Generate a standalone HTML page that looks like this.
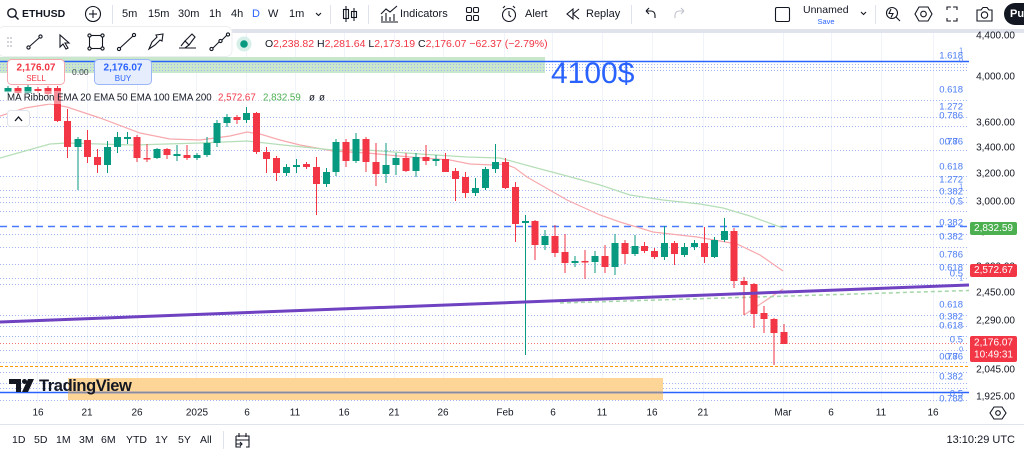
<!DOCTYPE html>
<html><head><meta charset="utf-8">
<style>
html,body{margin:0;padding:0;background:#fff;}
body{width:1024px;height:451px;overflow:hidden;}
svg{display:block;font-family:"Liberation Sans",sans-serif;}
</style></head>
<body>
<svg width="1024" height="451" viewBox="0 0 1024 451" xmlns="http://www.w3.org/2000/svg">
<rect x="0" y="0" width="1024" height="451" fill="#fff"/>
<!-- top toolbar separator -->
<rect x="0" y="29" width="1024" height="4" fill="#e0e3eb"/>

<!-- vertical grid -->
<g stroke="#f0f3fa" stroke-width="1">
<line x1="37.5" y1="33" x2="37.5" y2="403"/><line x1="87.5" y1="33" x2="87.5" y2="403"/><line x1="137.5" y1="33" x2="137.5" y2="403"/><line x1="196.5" y1="33" x2="196.5" y2="403"/><line x1="246.5" y1="33" x2="246.5" y2="403"/><line x1="295.5" y1="33" x2="295.5" y2="403"/><line x1="344.5" y1="33" x2="344.5" y2="403"/><line x1="394.5" y1="33" x2="394.5" y2="403"/><line x1="443.5" y1="33" x2="443.5" y2="403"/><line x1="504.5" y1="33" x2="504.5" y2="403"/><line x1="552.5" y1="33" x2="552.5" y2="403"/><line x1="602.5" y1="33" x2="602.5" y2="403"/><line x1="652.5" y1="33" x2="652.5" y2="403"/><line x1="703.5" y1="33" x2="703.5" y2="403"/><line x1="783.5" y1="33" x2="783.5" y2="403"/><line x1="831.5" y1="33" x2="831.5" y2="403"/><line x1="881.5" y1="33" x2="881.5" y2="403"/><line x1="933.5" y1="33" x2="933.5" y2="403"/>
</g>

<!-- green band -->
<rect x="0" y="57" width="545" height="16" fill="#c9e7cb"/>

<!-- dotted fib lines -->
<g stroke="#a3b6f4" stroke-width="1" stroke-dasharray="1 2">
<line x1="0" y1="64.5" x2="969" y2="64.5"/><line x1="0" y1="67.5" x2="969" y2="67.5"/><line x1="0" y1="70.5" x2="969" y2="70.5"/>
<line x1="0" y1="100.5" x2="969" y2="100.5"/><line x1="0" y1="117.5" x2="969" y2="117.5"/><line x1="0" y1="126.5" x2="969" y2="126.5"/>
<line x1="0" y1="150.5" x2="969" y2="150.5"/><line x1="0" y1="176.5" x2="969" y2="176.5"/><line x1="0" y1="190.5" x2="969" y2="190.5"/>
<line x1="0" y1="197.5" x2="969" y2="197.5"/><line x1="0" y1="202.5" x2="969" y2="202.5"/><line x1="0" y1="211.5" x2="969" y2="211.5"/>
<line x1="0" y1="234.5" x2="969" y2="234.5"/><line x1="0" y1="247.5" x2="969" y2="247.5"/><line x1="0" y1="264.5" x2="969" y2="264.5"/>
<line x1="0" y1="278.5" x2="969" y2="278.5"/><line x1="0" y1="284.5" x2="969" y2="284.5"/><line x1="0" y1="315.5" x2="969" y2="315.5"/>
<line x1="0" y1="326.5" x2="969" y2="326.5"/><line x1="0" y1="336.5" x2="969" y2="336.5"/><line x1="0" y1="350.5" x2="969" y2="350.5"/>
<line x1="0" y1="362.5" x2="969" y2="362.5"/><line x1="0" y1="372.5" x2="969" y2="372.5"/><line x1="0" y1="383.5" x2="969" y2="383.5"/>
<line x1="0" y1="388.5" x2="969" y2="388.5"/><line x1="0" y1="400.5" x2="969" y2="400.5"/>
</g>
<!-- special horizontal lines -->
<line x1="0" y1="61.5" x2="969" y2="61.5" stroke="#2962ff" stroke-width="1.5"/>
<line x1="0" y1="226.5" x2="969" y2="226.5" stroke="#2962ff" stroke-width="1.5" stroke-dasharray="7 5" opacity="0.85"/>
<line x1="0" y1="343.5" x2="969" y2="343.5" stroke="#f23645" stroke-width="1" stroke-dasharray="1 2" opacity="0.7"/>
<line x1="0" y1="366.5" x2="969" y2="366.5" stroke="#ff9800" stroke-width="1" stroke-dasharray="3 2"/>

<!-- orange band -->
<rect x="68" y="378" width="595" height="22" fill="#fdd597"/>
<line x1="0" y1="392.5" x2="969" y2="392.5" stroke="#2962ff" stroke-width="1.5"/>
<line x1="68" y1="392.5" x2="663" y2="392.5" stroke="#8a8aa0" stroke-width="1.5"/>

<!-- EMA lines -->
<polyline fill="none" stroke="#f7a9ad" stroke-width="1.2" points="0,116 25,108 50,104 67,107 100,118 140,133 170,139 200,140 230,136 247,132 260,134 280,140 300,145 333,151 367,153 410,157 450,160 470,164 493,165 505,164 515,168 527,177 567,200 600,215 620,222 653,232 697,237 737,244 760,255 783,271"/>
<polyline fill="none" stroke="#f7a9ad" stroke-width="1.2" points="744,315 783,289"/>
<polyline fill="none" stroke="#b5deb7" stroke-width="1.2" points="0,158 25,151 50,144 67,143 133,145 200,143 247,141 283,145 333,150 367,150 420,154 467,157 500,158 533,167 567,176 600,185 630,195 663,200 700,204 723,208 750,216 783,228"/>
<line x1="560" y1="303" x2="969" y2="290.5" stroke="#a5d6a7" stroke-width="1.5" stroke-dasharray="4 3"/>

<!-- candles green -->
<g fill="#089981">
<rect x="7.5" y="86" width="1" height="8"/><rect x="4.5" y="88" width="7" height="4"/>
<rect x="27.5" y="85" width="1" height="9"/><rect x="24.5" y="87" width="7" height="6"/>
<rect x="77.5" y="137" width="1" height="53"/><rect x="74.5" y="139" width="7" height="8"/>
<rect x="107" y="141" width="1" height="32"/><rect x="104" y="147" width="7" height="18"/>
<rect x="117" y="132" width="1" height="21"/><rect x="114" y="137" width="7" height="10"/>
<rect x="127" y="132" width="1" height="12"/><rect x="124" y="137" width="7" height="2"/>
<rect x="156.5" y="148" width="1" height="11"/><rect x="153.5" y="149" width="7" height="9"/>
<rect x="176.5" y="145" width="1" height="16"/><rect x="173.5" y="154" width="7" height="2"/>
<rect x="196.5" y="153" width="1" height="7"/><rect x="193.5" y="155" width="7" height="3"/>
<rect x="206.5" y="137" width="1" height="20"/><rect x="203.5" y="143" width="7" height="12"/>
<rect x="216.5" y="120" width="1" height="27"/><rect x="213.5" y="123" width="7" height="20"/>
<rect x="226.5" y="114" width="1" height="13"/><rect x="223.5" y="117" width="7" height="6"/>
<rect x="246" y="107" width="1" height="16"/><rect x="243" y="113" width="7" height="7"/>
<rect x="286" y="164" width="1" height="12"/><rect x="283" y="167" width="7" height="6"/>
<rect x="296" y="159" width="1" height="14"/><rect x="293" y="165" width="7" height="2"/>
<rect x="326" y="168" width="1" height="19"/><rect x="323" y="172" width="7" height="12"/>
<rect x="335.5" y="139" width="1" height="37"/><rect x="332.5" y="142" width="7" height="30"/>
<rect x="355.5" y="133" width="1" height="30"/><rect x="352.5" y="139" width="7" height="22"/>
<rect x="385.5" y="143" width="1" height="40"/><rect x="382.5" y="165" width="7" height="9"/>
<rect x="395.5" y="153" width="1" height="22"/><rect x="392.5" y="158" width="7" height="7"/>
<rect x="415.5" y="153" width="1" height="24"/><rect x="412.5" y="157" width="7" height="14"/>
<rect x="435.5" y="155" width="1" height="11"/><rect x="432.5" y="159" width="7" height="2"/>
<rect x="475" y="178" width="1" height="18"/><rect x="472" y="188" width="7" height="5"/>
<rect x="485" y="167" width="1" height="23"/><rect x="482" y="169" width="7" height="19"/>
<rect x="495" y="144" width="1" height="29"/><rect x="492" y="162" width="7" height="7"/>
<rect x="525" y="215" width="1" height="140"/><rect x="522" y="221" width="7" height="2"/>
<rect x="544.5" y="230" width="1" height="20"/><rect x="541.5" y="236" width="7" height="9"/>
<rect x="574.5" y="256" width="1" height="11"/><rect x="571.5" y="261" width="7" height="2"/>
<rect x="594.5" y="251" width="1" height="22"/><rect x="591.5" y="256" width="7" height="6"/>
<rect x="614.5" y="234" width="1" height="41"/><rect x="611.5" y="243" width="7" height="24"/>
<rect x="634.5" y="235" width="1" height="21"/><rect x="631.5" y="246" width="7" height="8"/>
<rect x="664" y="226" width="1" height="34"/><rect x="661" y="243" width="7" height="14"/>
<rect x="684" y="243" width="1" height="14"/><rect x="681" y="247" width="7" height="8"/>
<rect x="694" y="240" width="1" height="10"/><rect x="691" y="243" width="7" height="4"/>
<rect x="714" y="237" width="1" height="21"/><rect x="711" y="240" width="7" height="17"/>
<rect x="724" y="218" width="1" height="24"/><rect x="721" y="231" width="7" height="9"/>
</g>
<!-- candles red -->
<g fill="#f23645">
<rect x="17.5" y="86" width="1" height="9"/><rect x="14.5" y="88" width="7" height="5"/>
<rect x="37.5" y="87" width="1" height="6"/><rect x="34.5" y="89" width="7" height="2"/>
<rect x="47.5" y="86" width="1" height="12"/><rect x="44.5" y="88" width="7" height="6"/>
<rect x="57" y="86" width="1" height="36"/><rect x="54" y="88" width="7" height="33"/>
<rect x="67" y="109" width="1" height="49"/><rect x="64" y="121" width="7" height="26"/>
<rect x="87" y="130" width="1" height="33"/><rect x="84" y="140" width="7" height="17"/>
<rect x="97" y="149" width="1" height="24"/><rect x="94" y="157" width="7" height="8"/>
<rect x="136.5" y="135" width="1" height="27"/><rect x="133.5" y="137" width="7" height="21"/>
<rect x="146.5" y="144" width="1" height="18"/><rect x="143.5" y="158" width="7" height="1.5"/>
<rect x="166.5" y="148" width="1" height="11"/><rect x="163.5" y="149" width="7" height="6"/>
<rect x="186.5" y="145" width="1" height="15"/><rect x="183.5" y="155" width="7" height="3"/>
<rect x="236.5" y="115" width="1" height="9"/><rect x="233.5" y="117" width="7" height="3"/>
<rect x="256" y="112" width="1" height="42"/><rect x="253" y="113" width="7" height="39"/>
<rect x="266" y="147" width="1" height="26"/><rect x="263" y="152" width="7" height="7"/>
<rect x="276" y="156" width="1" height="25"/><rect x="273" y="158" width="7" height="15"/>
<rect x="306" y="162" width="1" height="7"/><rect x="303" y="164" width="7" height="3"/>
<rect x="316" y="157" width="1" height="58"/><rect x="313" y="167" width="7" height="17"/>
<rect x="345.5" y="139" width="1" height="28"/><rect x="342.5" y="142" width="7" height="19"/>
<rect x="365.5" y="137" width="1" height="35"/><rect x="362.5" y="139" width="7" height="23"/>
<rect x="375.5" y="143" width="1" height="43"/><rect x="372.5" y="162" width="7" height="12"/>
<rect x="405.5" y="153" width="1" height="19"/><rect x="402.5" y="158" width="7" height="13"/>
<rect x="425.5" y="145" width="1" height="20"/><rect x="422.5" y="157" width="7" height="4"/>
<rect x="445" y="153" width="1" height="19"/><rect x="442" y="159" width="7" height="13"/>
<rect x="455" y="168" width="1" height="33"/><rect x="452" y="171" width="7" height="8"/>
<rect x="465" y="172" width="1" height="26"/><rect x="462" y="177" width="7" height="16"/>
<rect x="505" y="158" width="1" height="31"/><rect x="502" y="162" width="7" height="26"/>
<rect x="515" y="182" width="1" height="60"/><rect x="512" y="187" width="7" height="37"/>
<rect x="534.5" y="220" width="1" height="40"/><rect x="531.5" y="221" width="7" height="24"/>
<rect x="554.5" y="225" width="1" height="32"/><rect x="551.5" y="236" width="7" height="17"/>
<rect x="564.5" y="234" width="1" height="39"/><rect x="561.5" y="252" width="7" height="11"/>
<rect x="584.5" y="250" width="1" height="29"/><rect x="581.5" y="261" width="7" height="1.5"/>
<rect x="604.5" y="245" width="1" height="28"/><rect x="601.5" y="256" width="7" height="11"/>
<rect x="624.5" y="240" width="1" height="24"/><rect x="621.5" y="243" width="7" height="11"/>
<rect x="644" y="242" width="1" height="11"/><rect x="641" y="246" width="7" height="5"/>
<rect x="654" y="248" width="1" height="11"/><rect x="651" y="251" width="7" height="6"/>
<rect x="674" y="241" width="1" height="24"/><rect x="671" y="243" width="7" height="11"/>
<rect x="704" y="227" width="1" height="36"/><rect x="701" y="243" width="7" height="14"/>
<rect x="733.5" y="228" width="1" height="60"/><rect x="730.5" y="231" width="7" height="50"/>
<rect x="743.5" y="277" width="1" height="38"/><rect x="740.5" y="281" width="7" height="4"/>
<rect x="753.5" y="283" width="1" height="45"/><rect x="750.5" y="284" width="7" height="30"/>
<rect x="763.5" y="306" width="1" height="27"/><rect x="760.5" y="313" width="7" height="6"/>
<rect x="773.5" y="318" width="1" height="47"/><rect x="770.5" y="319" width="7" height="14"/>
<rect x="783.5" y="324" width="1" height="20"/><rect x="780.5" y="332" width="7" height="12"/>
</g>

<!-- purple trend line -->
<line x1="0" y1="322" x2="969" y2="285" stroke="#6f42c1" stroke-width="3"/>

<!-- fib labels -->
<g fill="#4a7cf3" font-size="9.5" text-anchor="end" dominant-baseline="central">
<text x="963" y="56">1.618</text>
<text x="963" y="90">0.618</text>
<text x="963" y="107">1.272</text>
<text x="963" y="116">0.786</text>
<text x="963" y="142">0.786</text><text x="958" y="142">0.7</text>
<text x="963" y="167">0.618</text>
<text x="963" y="180">1.272</text>
<text x="963" y="192">0.382</text>
<text x="963" y="202">0.5</text>
<text x="963" y="223">0.382</text>
<text x="963" y="237">0.382</text>
<text x="963" y="255">0.786</text>
<text x="963" y="268">0.618</text>
<text x="963" y="274">0.5</text>
<text x="963" y="305">0.618</text>
<text x="963" y="317">0.382</text>
<text x="963" y="326">0.618</text>
<text x="963" y="340">0.5</text>
<text x="963" y="357">0.786</text><text x="958" y="357">0.7</text>
<text x="963" y="377">0.382</text>
<text x="963" y="394">0.5</text>
<text x="963" y="399">0.788</text>
</g>
<g fill="#4a7cf3" font-size="7" text-anchor="end" dominant-baseline="central">
<text x="963" y="51">1</text><text x="963" y="61">0</text><text x="963" y="187">1</text><text x="963" y="279">1</text><text x="963" y="350">0</text>
</g>

<!-- 4100$ -->
<text x="551" y="83" font-size="30" fill="#2962ff">4100$</text>

<!-- TradingView logo -->
<g fill="#131722">
<path d="M9 379 H21 V392 H16 V384 H9 Z"/>
<circle cx="24.5" cy="381.5" r="2.5"/>
<path d="M28 379 H34 L28 392 H22 Z"/>
</g>
<text x="39" y="391" font-size="16.5" font-weight="bold" fill="#131722" letter-spacing="-0.4">TradingView</text>

<!-- price axis -->
<rect x="969" y="33" width="55" height="370" fill="#fff"/>
<g fill="#131722" font-size="10" text-anchor="end" dominant-baseline="central">
<text x="1015" y="36">4,400.00</text>
<text x="1015" y="77">4,000.00</text>
<text x="1015" y="123">3,600.00</text>
<text x="1015" y="148">3,400.00</text>
<text x="1015" y="174">3,200.00</text>
<text x="1015" y="202">3,000.00</text>
<text x="1015" y="232">2,800.00</text>
<text x="1015" y="267">2,600.00</text>
<text x="1015" y="293">2,450.00</text>
<text x="1015" y="321">2,290.00</text>
<text x="1015" y="370">2,045.00</text>
<text x="1015" y="397">1,925.00</text>
</g>
<rect x="970" y="222" width="47" height="13" rx="2" fill="#4caf50"/>
<text x="993.5" y="228.5" font-size="10" fill="#fff" text-anchor="middle" dominant-baseline="central">2,832.59</text>
<rect x="970" y="264" width="47" height="13" rx="2" fill="#f23645"/>
<text x="993.5" y="270.5" font-size="10" fill="#fff" text-anchor="middle" dominant-baseline="central">2,572.67</text>
<rect x="970" y="336" width="47" height="26" rx="2" fill="#f23645"/>
<text x="993.5" y="343" font-size="10" fill="#fff" text-anchor="middle" dominant-baseline="central">2,176.07</text>
<text x="993.5" y="355" font-size="10" fill="#fff" text-anchor="middle" dominant-baseline="central">10:49:31</text>

<!-- time axis -->
<g fill="#131722" font-size="10" text-anchor="middle" dominant-baseline="central">
<text x="38" y="413">16</text><text x="87" y="413">21</text><text x="137" y="413">26</text><text x="197" y="413">2025</text>
<text x="247" y="413">6</text><text x="295" y="413">11</text><text x="344" y="413">16</text><text x="394" y="413">21</text>
<text x="443" y="413">26</text><text x="505" y="413">Feb</text><text x="553" y="413">6</text><text x="602" y="413">11</text>
<text x="652" y="413">16</text><text x="703" y="413">21</text><text x="783" y="413">Mar</text><text x="831" y="413">6</text>
<text x="881" y="413">11</text><text x="933" y="413">16</text>
</g>
<g fill="none" stroke="#131722" stroke-width="1.1">
<path d="M994 407 L1002 407 L1006 413 L1002 419 L994 419 L990 413 Z"/>
<circle cx="998" cy="413" r="2.3"/>
</g>

<!-- bottom bar -->
<line x1="0" y1="424.5" x2="1024" y2="424.5" stroke="#e0e3eb"/>
<g fill="#131722" font-size="10.5" dominant-baseline="central">
<text x="12" y="440">1D</text><text x="34" y="440">5D</text><text x="56" y="440">1M</text><text x="79" y="440">3M</text>
<text x="101" y="440">6M</text><text x="126" y="440">YTD</text><text x="155" y="440">1Y</text><text x="178" y="440">5Y</text>
<text x="200" y="440">All</text>
<text x="1015" y="440" text-anchor="end" font-size="11">13:10:29 UTC</text>
</g>
<line x1="223.5" y1="431" x2="223.5" y2="449" stroke="#e0e3eb"/>
<g fill="none" stroke="#131722" stroke-width="1.1">
<path d="M236 436 V447 H241 M236 436 H249 V447 H246 M236 440 H249 M239 433 V437 M246 433 V437 M236 444 H242 M240 442 L242 444 L240 446"/>
</g>

<!-- legend overlay row -->
<rect x="4" y="91" width="328" height="13" fill="#fff" opacity="0.45"/>
<g font-size="9.7" dominant-baseline="central">
<text x="7" y="98" fill="#131722">MA Ribbon EMA 20 EMA 50 EMA 100 EMA 200</text>
<text x="218" y="98" fill="#f23645">2,572.67</text>
<text x="263" y="98" fill="#4caf50">2,832.59</text>
<text x="309" y="98" fill="#131722">ø</text>
<text x="319" y="98" fill="#131722">ø</text>
</g>
<!-- collapse button -->
<rect x="7.5" y="110.5" width="22" height="16" rx="3" fill="#fff" stroke="#e0e3eb"/>
<path d="M15 121 L18.5 117 L22 121" fill="none" stroke="#131722" stroke-width="1.3"/>

<!-- sell / buy -->
<rect x="7.5" y="59.5" width="57" height="25" rx="4" fill="#fff" stroke="#f7a8ae"/>
<text x="36" y="68" font-size="10" font-weight="bold" fill="#f23645" text-anchor="middle" dominant-baseline="central">2,176.07</text>
<text x="36" y="78.5" font-size="8" fill="#f23645" text-anchor="middle" dominant-baseline="central">SELL</text>
<text x="72" y="72" font-size="8.5" fill="#434651" dominant-baseline="central">0.00</text>
<rect x="94.5" y="59.5" width="57" height="25" rx="4" fill="#e6eefd" stroke="#9ab6f7"/>
<text x="123" y="68" font-size="10" font-weight="bold" fill="#2962ff" text-anchor="middle" dominant-baseline="central">2,176.07</text>
<text x="123" y="78.5" font-size="8" fill="#2962ff" text-anchor="middle" dominant-baseline="central">BUY</text>

<!-- drawing toolbar -->
<rect x="-2" y="26.5" width="234" height="30" rx="6" fill="#fff" stroke="#eceef2"/>
<g fill="#b2b5be">
<circle cx="8" cy="38" r="0.9"/><circle cx="11" cy="38" r="0.9"/><circle cx="8" cy="42" r="0.9"/><circle cx="11" cy="42" r="0.9"/><circle cx="8" cy="46" r="0.9"/><circle cx="11" cy="46" r="0.9"/>
</g>
<g fill="none" stroke="#131722" stroke-width="1.1">
<line x1="30" y1="46" x2="39" y2="38"/><circle cx="28.5" cy="47.5" r="1.6"/><circle cx="40.5" cy="36.5" r="1.6"/>
<path d="M60 35 L60 47 L63 44 L66 49 L68 48 L65 43 L69 43 Z"/>
<rect x="89.5" y="35.5" width="13" height="13"/><circle cx="89.5" cy="35.5" r="1.6" fill="#fff"/><circle cx="102.5" cy="35.5" r="1.6" fill="#fff"/><circle cx="89.5" cy="48.5" r="1.6" fill="#fff"/><circle cx="102.5" cy="48.5" r="1.6" fill="#fff"/>
<line x1="120" y1="48" x2="133" y2="36"/><circle cx="119" cy="49" r="1.6"/><circle cx="134" cy="35" r="1.6"/>
<path d="M149 49 L152 42 L157 37 L156 35 L163 34 L162 41 L160 40 L155 45 Z"/>
<path d="M179 48 L196 48 M181 46 L185 41 L189 45 L185 48 M185 41 L192 34 L195 37 L189 45"/>
<line x1="213" y1="48" x2="219" y2="42"/><line x1="222" y1="40" x2="227" y2="35"/><circle cx="211.5" cy="49" r="1.6"/><circle cx="220.5" cy="41" r="1.6"/><circle cx="228" cy="34.5" r="1.6"/>
</g>
<circle cx="244" cy="44" r="7.5" fill="#d6efe8"/>
<circle cx="244" cy="44" r="3.8" fill="#089981"/>
<!-- OHLC -->
<text x="265" y="44" font-size="10.5" dominant-baseline="central"><tspan fill="#131722">O</tspan><tspan fill="#f23645">2,238.82 </tspan><tspan fill="#131722">H</tspan><tspan fill="#f23645">2,281.64 </tspan><tspan fill="#131722">L</tspan><tspan fill="#f23645">2,173.19 </tspan><tspan fill="#131722">C</tspan><tspan fill="#f23645">2,176.07 −62.37 (−2.79%)</tspan></text>

<!-- top toolbar -->
<g fill="none" stroke="#131722" stroke-width="1.4">
<circle cx="12" cy="13" r="4.2"/><line x1="15" y1="16" x2="18.5" y2="19.5"/>
</g>
<text x="22" y="14" font-size="10.5" font-weight="bold" fill="#131722" dominant-baseline="central">ETHUSD</text>
<g fill="none" stroke="#131722" stroke-width="1.1">
<circle cx="93" cy="14" r="7.5"/><line x1="93" y1="10" x2="93" y2="18"/><line x1="89" y1="14" x2="97" y2="14"/>
</g>
<g stroke="#e0e3eb"><line x1="112.5" y1="5" x2="112.5" y2="24"/><line x1="330.5" y1="5" x2="330.5" y2="24"/><line x1="368.5" y1="5" x2="368.5" y2="24"/><line x1="631.5" y1="5" x2="631.5" y2="24"/><line x1="875.5" y1="5" x2="875.5" y2="24"/></g>
<g font-size="11" fill="#131722" dominant-baseline="central">
<text x="122" y="14">5m</text><text x="148" y="14">15m</text><text x="178" y="14">30m</text><text x="209" y="14">1h</text><text x="231" y="14">4h</text>
<text x="252" y="14" fill="#2962ff">D</text><text x="268" y="14">W</text><text x="289" y="14">1m</text>
<text x="400" y="14">Indicators</text><text x="525" y="14">Alert</text><text x="586" y="14">Replay</text>
<text x="803" y="10" font-size="10.5">Unnamed</text>
</g>
<text x="826" y="21.5" font-size="7.5" fill="#2962ff" text-anchor="middle" dominant-baseline="central">Save</text>
<g fill="none" stroke="#131722" stroke-width="1.1">
<path d="M316 13 L318.5 15.5 L321 13"/>
<path d="M861 12 L863.5 14.5 L866 12"/>
<line x1="346" y1="6" x2="346" y2="22"/><rect x="343.5" y="9.5" width="5" height="9"/>
<line x1="354" y1="8" x2="354" y2="21"/><rect x="351.5" y="11.5" width="5" height="6"/>
<path d="M381 22 H398 M382 21 V16 M386 21 V13 M390 21 V17 M394 21 V14 M381 14 L386 9 L390 12 L397 6"/>
<rect x="466.5" y="7.5" width="5" height="5" rx="1.2"/><rect x="473.5" y="7.5" width="5" height="5" rx="1.2"/><rect x="466.5" y="15.5" width="5" height="5" rx="1.2"/><rect x="473.5" y="15.5" width="5" height="5" rx="1.2"/>
<circle cx="509" cy="15" r="6.5"/><path d="M509 11 V15 L511 17 M503 8 L505 6 M515 8 L513 6"/>
<path d="M573 9 L567 14 L573 19 Z M579 9 L573 14 L579 19"/>
<path d="M646 11 L649 8 M646 11 L649 14 M646 11 H651 A4 4 0 0 1 655 15 V18"/>
<rect x="775.5" y="7.5" width="14" height="14" rx="1.5"/>
<circle cx="892" cy="13" r="5.5"/><path d="M896 17 L900 21 M891 9 L889 13.5 H893 L891 17.5"/>
<path d="M919 7 L928 7 L932 14 L928 21 L919 21 L915 14 Z"/><circle cx="923.5" cy="14" r="2.8"/>
<path d="M947 10 V7 H951 M953 7 H957 V10 M957 18 V21 H953 M951 21 H947 V18"/>
<path d="M977 10 H981 L983 7.5 H987 L989 10 H992 V21 H977 Z"/><circle cx="984.5" cy="15" r="3.2"/>
</g>
<path d="M676 11 L673 8 M676 11 L673 14 M676 11 H671 A4 4 0 0 0 667 15 V18" fill="none" stroke="#c1c4cd" stroke-width="1.1" transform="translate(8,0)"/>
<rect x="1004" y="3" width="40" height="22" rx="11" fill="#131722"/>
<text x="1010" y="14" font-size="11" font-weight="bold" fill="#fff" dominant-baseline="central">Pu</text>
</svg>
</body></html>
